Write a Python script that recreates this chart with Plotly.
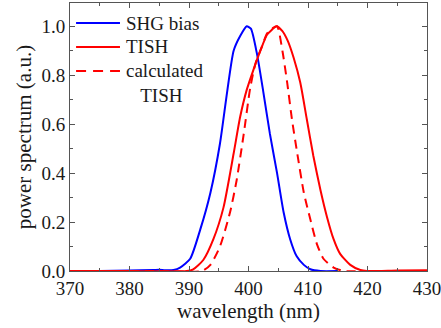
import plotly.graph_objects as go

# SHG bias spectrum
shg_x = [370, 375, 380, 384, 385, 386, 387.4, 388.5, 390.2, 391.9, 393.6, 395.2, 396.4, 397.5, 398.6, 399.7,
         400.4, 401.4, 402.5, 403.6, 404.8, 405.9, 407.0, 408.1, 409.3, 410.4, 412.1, 415]
shg_y = [0.0, 0.0, 0.002, 0.004, 0.005, 0.003, 0.004, 0.014, 0.05, 0.17, 0.32, 0.52, 0.73, 0.90, 0.96, 1.0,
         0.99, 0.89, 0.73, 0.56, 0.40, 0.24, 0.13, 0.06, 0.025, 0.007, 0.0, 0.0]

# measured TISH spectrum
tish_x = [370, 380, 389.6, 390.7, 392.4, 394.1, 395.8, 397.5, 398.6, 399.7, 400.8, 402.0, 403.1, 403.9, 404.7,
          405.7, 406.6, 407.6, 408.7, 409.8, 410.9, 412.1, 413.2, 414.3, 415.4, 417.1, 418.8, 419.9, 425, 430]
tish_y = [0.0, 0.0, 0.0, 0.007, 0.045, 0.13, 0.26, 0.48, 0.63, 0.74, 0.82, 0.90, 0.965, 0.985, 1.0,
          0.98, 0.94, 0.87, 0.77, 0.62, 0.47, 0.33, 0.22, 0.13, 0.07, 0.025, 0.004, 0.0, 0.002, 0.003]

# calculated TISH spectrum
calc_x = [375, 385, 392.2, 393.6, 395.2, 396.9, 398.0, 399.2, 400.3, 401.2, 402.3, 403.1, 403.9, 404.8,
          405.7, 406.5, 407.3, 408.2, 409.3, 410.4, 411.5, 412.6, 414.3, 416.0, 420, 427]
calc_y = [0.0, 0.0, 0.0, 0.025, 0.10, 0.24, 0.37, 0.56, 0.75, 0.85, 0.92, 0.97, 0.99, 1.0,
          0.90, 0.77, 0.62, 0.48, 0.32, 0.21, 0.11, 0.05, 0.014, 0.0, 0.0, 0.0]

x_ticks = [370, 380, 390, 400, 410, 420, 430]
y_ticks = [0.0, 0.2, 0.4, 0.6, 0.8, 1.0]

series_names = ["SHG bias", "TISH", "calculated<br>&nbsp;&nbsp;&nbsp;TISH"]
series_colors = ["#0000ff", "#ff0000", "#ff0000"]
series_dash = ["solid", "solid", "9px,6px"]

font = "Liberation Serif"
txt = "#1a1a1a"

fig = go.Figure()
for xs, ys, nm, col, dsh in zip([shg_x, tish_x, calc_x], [shg_y, tish_y, calc_y],
                                series_names, series_colors, series_dash):
    fig.add_trace(go.Scatter(x=xs, y=ys, mode="lines", name=nm, showlegend=False,
                             line=dict(color=col, width=2, dash=dsh, shape="spline", smoothing=0.6)))

# legend drawn as line samples + labels (paper coordinates)
leg_rows = [0.925, 0.836, 0.746]
for row, nm, col, dsh in zip(leg_rows, series_names, series_colors, series_dash):
    fig.add_shape(type="line", xref="paper", yref="paper", x0=0.017, x1=0.14, y0=row, y1=row,
                  line=dict(color=col, width=2, dash="10px,7px" if dsh != "solid" else "solid"))
    fig.add_annotation(xref="paper", yref="paper", x=0.152, y=row, xanchor="left",
                       yanchor="top" if "<br>" in nm else "middle",
                       yshift=13 if "<br>" in nm else 0,
                       text=nm, showarrow=False, align="left",
                       font=dict(family=font, size=19, color=txt))

axis_common = dict(showline=True, linecolor="#555555", linewidth=1, mirror="allticks",
                   ticks="inside", ticklen=5, tickcolor="#555555", showgrid=False, zeroline=False,
                   ticklabeloverflow="allow",
                   tickfont=dict(family=font, size=19, color=txt))

fig.update_layout(
    width=441, height=328,
    margin=dict(l=70, r=14, t=3, b=57),
    paper_bgcolor="white", plot_bgcolor="white",
    font=dict(family=font, color=txt),
    showlegend=False,
    xaxis=dict(range=[370, 430], tickvals=x_ticks, ticktext=[str(v) for v in x_ticks],
               minor=dict(dtick=5, ticks="inside", ticklen=3, tickcolor="#555555"),
               title=dict(text="wavelength (nm)", font=dict(family=font, size=21), standoff=2),
               automargin=False, **axis_common),
    yaxis=dict(range=[0, 1.095], tickvals=y_ticks, ticktext=[f"{v:.1f}" for v in y_ticks],
               minor=dict(dtick=0.1, ticks="inside", ticklen=3, tickcolor="#555555"),
               title=dict(text="power spectrum (a.u.)", font=dict(family=font, size=21), standoff=4),
               automargin=False, **axis_common),
)

fig.write_html("out.html", config={"displayModeBar": False},
               post_script="document.body.style.margin='0';")
